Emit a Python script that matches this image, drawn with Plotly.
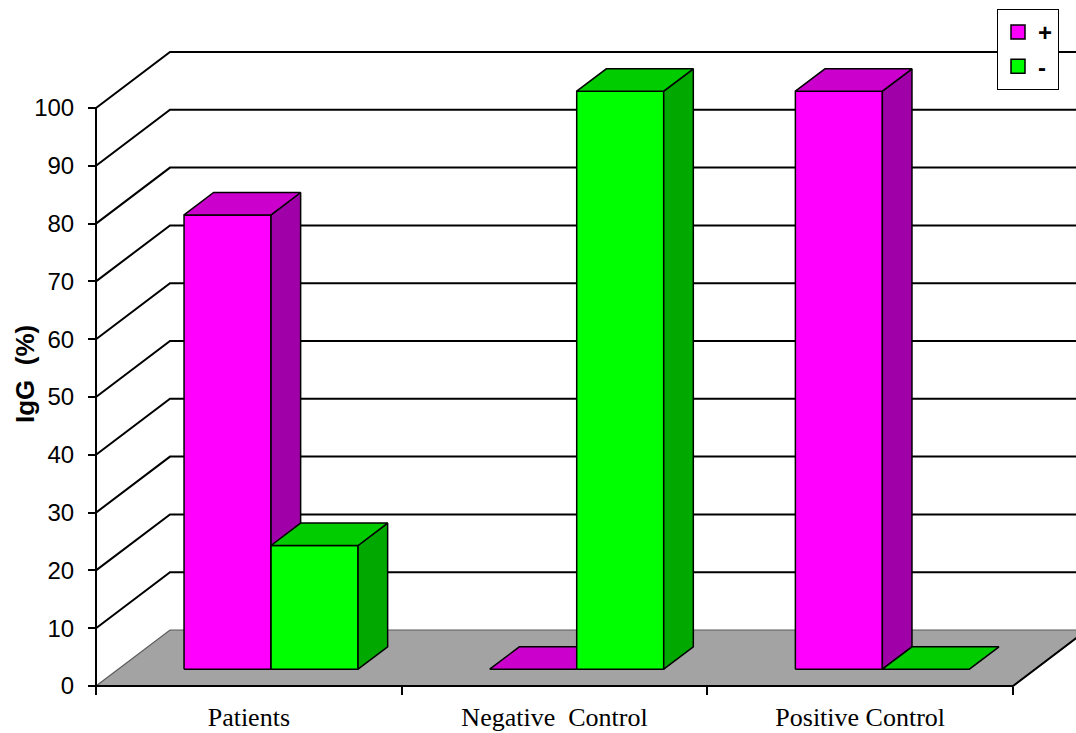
import plotly.graph_objects as go

# ---- data -------------------------------------------------------------
categories = ["Patients", "Negative  Control", "Positive Control"]
series_names = ["+", "-"]
positive_pct = [78.6, 0, 100]
negative_pct = [21.4, 100, 0]
y_tick_values = [0, 10, 20, 30, 40, 50, 60, 70, 80, 90, 100]

# ---- styling / pseudo-3D geometry ---------------------------------------
series_colors = {
    "+": dict(front="#FF00FF", side="#A000A8", top="#CC00CC"),
    "-": dict(front="#00FF00", side="#00A800", top="#00CC00"),
}
PX_PER_CAT = 305.67          # pixel width of one category
PX_PER_PCT = 5.78            # pixel height of one percent
DEPTH_X = 74 / PX_PER_CAT    # oblique depth offset (x units)
DEPTH_Y = 56 / PX_PER_PCT    # oblique depth offset (y units)
BAR_W = 87 / PX_PER_CAT      # bar width in category units
BAR_FRONT, BAR_BACK = 0.30, 0.70   # bar depth span (fraction of floor depth)

W, H = 1076, 733
M_L, M_R, M_T, M_B = 80, 0, 0, 40
plot_w = W - M_L - M_R
plot_h = H - M_T - M_B
x_min = -(96 - M_L) / PX_PER_CAT
x_max = x_min + plot_w / PX_PER_CAT
y_min = -((H - M_B) - 686) / PX_PER_PCT
y_max = y_min + plot_h / PX_PER_PCT


def proj(x, y, d):
    """Oblique projection of a point at depth fraction d."""
    return x + d * DEPTH_X, y + d * DEPTH_Y


def poly(points, fill, line_color="black", line_width=1.5):
    xs, ys = zip(*points)
    return go.Scatter(
        x=list(xs) + [xs[0]], y=list(ys) + [ys[0]],
        mode="lines", fill="toself", fillcolor=fill,
        line=dict(color=line_color, width=line_width),
        hoverinfo="skip", showlegend=False,
    )


fig = go.Figure()

# floor
n = len(categories)
fig.add_trace(poly([proj(0, 0, 0), proj(n, 0, 0), proj(n, 0, 1), proj(0, 0, 1)],
                   "#A3A3A3", line_color="#5A5A5A", line_width=1.2))

# back-wall gridlines (side wall diagonal + back wall horizontal)
for v in y_tick_values[1:]:
    x0, y0 = proj(0, v, 0)
    x1, y1 = proj(0, v, 1)
    fig.add_trace(go.Scatter(x=[x0, x1, x_max], y=[y0, y1, y1], mode="lines",
                             line=dict(color="black", width=2),
                             hoverinfo="skip", showlegend=False))

# axis lines: value axis and category axis with floor right edge
fig.add_trace(go.Scatter(x=[0, 0], y=[0, y_tick_values[-1]], mode="lines",
                         line=dict(color="black", width=2),
                         hoverinfo="skip", showlegend=False))
xe, ye = proj(n, 0, 1)
fig.add_trace(go.Scatter(x=[0, n, xe], y=[0, 0, ye], mode="lines",
                         line=dict(color="black", width=2),
                         hoverinfo="skip", showlegend=False))

# 3D bars, drawn left to right so nearer faces overlap correctly
for i, cat in enumerate(categories):
    for s, (name, vals) in enumerate(zip(series_names, [positive_pct, negative_pct])):
        v = vals[i]
        c = series_colors[name]
        x0 = i + 0.5 - BAR_W + s * BAR_W
        x1 = x0 + BAR_W
        f, b = BAR_FRONT, BAR_BACK
        if v > 0:
            fig.add_trace(poly([proj(x0, 0, f), proj(x1, 0, f), proj(x1, v, f), proj(x0, v, f)], c["front"]))
            fig.add_trace(poly([proj(x1, 0, f), proj(x1, 0, b), proj(x1, v, b), proj(x1, v, f)], c["side"]))
        fig.add_trace(poly([proj(x0, v, f), proj(x1, v, f), proj(x1, v, b), proj(x0, v, b)], c["top"]))

# legend entries
for name in series_names:
    fig.add_trace(go.Scatter(
        x=[None], y=[None], mode="markers", name=name,
        marker=dict(symbol="square", size=14, color=series_colors[name]["front"],
                    line=dict(color="black", width=1.5)),
    ))

fig.update_layout(
    width=W, height=H,
    margin=dict(l=M_L, r=M_R, t=M_T, b=M_B),
    plot_bgcolor="white", paper_bgcolor="white",
    showlegend=True,
    legend=dict(
        x=(1059 - M_L) / plot_w, y=(plot_h - 9) / plot_h,
        xanchor="right", yanchor="top",
        bgcolor="white", bordercolor="black", borderwidth=1,
        font=dict(family="Liberation Sans", size=24, color="black", weight="bold"),
        itemwidth=30, tracegroupgap=0,
    ),
    xaxis=dict(
        range=[x_min, x_max], showgrid=False, zeroline=False, showline=False,
        anchor="free", position=((H - M_B) - 686) / plot_h,
        tickmode="array", tickvals=[i + 0.5 for i in range(n)], ticktext=categories,
        ticks="outside", ticklen=8, tickcolor="rgba(0,0,0,0)",
        tickfont=dict(family="Liberation Serif", size=26, color="black"),
        minor=dict(tickmode="array", tickvals=list(range(n + 1)), ticks="outside",
                   ticklen=8, tickwidth=1.5, tickcolor="black", showgrid=False),
    ),
    yaxis=dict(
        range=[y_min, y_max], showgrid=False, zeroline=False, showline=False,
        anchor="free", position=(96 - M_L) / plot_w,
        tickmode="array", tickvals=y_tick_values,
        ticks="outside", ticklen=8, tickwidth=1.5, tickcolor="black",
        tickfont=dict(family="Liberation Sans", size=24, color="black"),
        ticklabelstandoff=9,
    ),
    annotations=[dict(
        text="<b>IgG  (%)</b>", textangle=-90, showarrow=False,
        xref="paper", yref="paper",
        x=(25 - M_L) / plot_w, y=(plot_h - 374) / plot_h,
        xanchor="center", yanchor="middle",
        font=dict(family="Liberation Sans", size=26, color="black"),
    )],
)

fig.write_html("out.html")
